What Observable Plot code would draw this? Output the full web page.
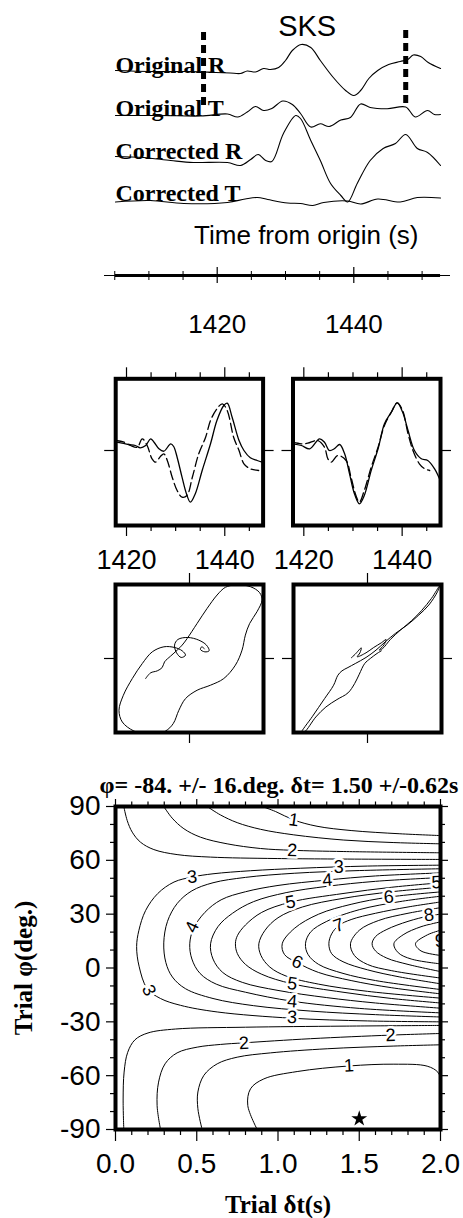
<!DOCTYPE html>
<html><head><meta charset="utf-8">
<script src="https://cdn.jsdelivr.net/npm/d3@7"></script>
<script src="https://cdn.jsdelivr.net/npm/@observablehq/plot@0.6"></script>
<style>
body{margin:0;background:#fff;}
#wrap{position:relative;width:463px;height:1218px;overflow:hidden;background:#fff;}
</style></head><body><div id="wrap"></div>
<script>
// ---------------- DATA ----------------
// Top traces: time (s) and amplitude (arbitrary units)
const timesOR = [1405.1,1410.2,1416.1,1419.8,1421.9,1423.4,1424.4,1425.6,1426.8,1427.8,1429.0,1430.0,1431.0,1432.3,1433.7,1435.1,1437.0,1438.8,1440.0,1441.0,1442.2,1443.5,1445.1,1446.8,1447.9,1448.7,1449.8,1450.9,1452.7];
const ampOR   = [1,0,0,-1,-1.5,-2,0.5,-0.5,3,2,4,11,21,27,24,11,-6,-19,-24,-19,-7,1,7,10,12,16.5,15,9,3];
const timesOT = [1405.1,1411.7,1417.6,1421.5,1423.0,1424.4,1425.6,1426.8,1428.0,1429.6,1431.0,1432.2,1433.7,1435.1,1436.4,1438.1,1439.5,1441.0,1442.4,1444.9,1447.6,1449.0,1450.8,1451.8,1452.7];
const ampOT   = [0,0,-0.5,1.5,-1.5,3.5,9,5,7,14.5,11,2,-11.5,-8.3,-11,-4.5,-2,11.5,8,6.7,8.5,-1.5,5,1,1];
const timesCR = [1405.1,1409.2,1413.2,1416.5,1421.5,1423.4,1424.9,1426.0,1427.1,1428.0,1429.7,1431.5,1432.2,1433.7,1435.1,1436.6,1438.1,1439.1,1440.5,1442.4,1444.3,1446.1,1447.6,1449.3,1450.8,1452.7];
const ampCR   = [4,3,0,-2,-2,-5,1,6,0,-1,27,45,42,20,0,-23,-35,-41.5,-23,0,12,17,26,12,8,-5];
const timesCT = [1405.1,1410.2,1415.1,1421.5,1424.1,1425.9,1427.4,1430.3,1432.2,1434.0,1435.6,1439.1,1441.0,1443.5,1446.8,1449.3,1452.7];
const ampCT   = [-0.5,1,-2,-1,2.5,4,2,-1.5,-2,-4,-1,0.5,-2.5,2.5,-0.5,4,3.5];
const traceLabels = ["Original R","Original T","Corrected R","Corrected T"];
const windowStart = 1418.0, windowEnd = 1447.6;
const timeTicksMajor = [1420,1440];
const timeTicksMinor = [1405,1410,1415,1425,1430,1435,1445,1450];

// Window panels: fast (solid) and slow (dashed) components
const timesFL = [1417.8,1419.1,1420.5,1421.8,1422.8,1423.9,1424.9,1425.6,1426.6,1427.6,1429.0,1429.6,1430.3,1431.3,1432.2,1433.0,1434.0,1435.4,1437.1,1438.4,1439.8,1440.5,1441.5,1442.9,1443.9,1445.2,1446.6,1447.6];
const ampFL   = [8.3,7.3,6,5,2.7,5,11.7,8.3,1.7,-0.7,6.7,4,-6.7,-26.7,-43.3,-51.7,-43.3,-20,6.7,30,45,47.3,33.3,10,0,-7.3,-10,-11.7];
const timesSL = [1417.8,1419.5,1420.8,1422.2,1423.2,1424.2,1425.2,1425.9,1426.9,1427.6,1428.3,1429.3,1430.3,1431.3,1432.3,1433.4,1434.7,1436.1,1437.1,1438.4,1439.5,1440.5,1441.8,1442.9,1443.9,1445.2,1446.9];
const ampSL   = [10,8.3,5,3.3,11.7,5,-8.3,-11.7,-6,-3.3,-10,-26.7,-40,-46.7,-45,-26.7,-3.3,13.3,30,41.7,46.7,40,13.3,0,-13.3,-18.3,-20];
const timesFR = [1417.8,1419.5,1421.2,1423.2,1424.2,1425.2,1426.2,1427.3,1428.3,1429.3,1430.3,1431.3,1432.3,1433.7,1435.1,1436.4,1437.8,1439.0,1440.1,1441.2,1442.5,1443.9,1445.2,1446.6,1447.6];
const ampFR   = [6.7,5,1.7,11.7,8.3,0,1.7,6,-3.3,-23.3,-43.3,-53.3,-45,-20,1.7,26.7,38.3,47.7,38.3,20,0,-8.3,-10,-18.3,-28.3];
const timesSR = [1417.8,1419.5,1420.8,1422.8,1424.2,1424.9,1425.6,1426.9,1428.6,1429.6,1430.6,1431.3,1432.3,1433.7,1435.1,1436.4,1437.8,1439.0,1440.1,1441.2,1442.2,1443.5,1444.6,1445.6];
const ampSR   = [8.3,6.7,7.3,10,3.3,-8.3,-11.7,-5,-10,-26.7,-45,-51.7,-40,-16.7,3.3,25,38.3,47.7,40,16.7,0,-13.3,-18.3,-20];
const windowTicks = [1420,1425,1430,1435,1440,1445];
const windowTickLabels = [1420,1440];

// Particle motion (normalized)
const pmLeftU  = [-0.593,-0.526,-0.436,-0.369,-0.337,-0.256,-0.166,-0.099,-0.031,0.103,0.238,0.373,0.485,0.62,0.822,0.948,0.98,0.912,0.813,0.755,0.71,0.62,0.463,0.283,0.103,-0.054,-0.144,-0.22,-0.324,-0.526,-0.751,-0.908,-0.953,-0.894,-0.773,-0.638,-0.503,-0.346,-0.202,-0.099,-0.054,-0.112,-0.175,-0.202,-0.157,-0.022,0.126,0.229,0.265,0.207,0.148,0.166,0.202];
const pmLeftV  = [-0.271,-0.194,-0.167,-0.122,-0.045,0.032,0.113,0.181,0.271,0.474,0.677,0.858,0.962,0.993,0.971,0.889,0.79,0.632,0.474,0.316,0.113,-0.09,-0.271,-0.361,-0.429,-0.542,-0.7,-0.88,-0.98,-1.038,-0.98,-0.858,-0.7,-0.497,-0.271,-0.068,0.09,0.158,0.149,0.104,0.045,0.014,0.077,0.181,0.257,0.284,0.248,0.181,0.104,0.09,0.122,0.158,0.131];
const pmRightU = [-0.219,-0.165,-0.084,-0.102,-0.138,-0.02,0.084,0.187,0.251,0.223,0.16,0.205,0.309,0.445,0.594,0.729,0.865,0.973,0.946,0.828,0.693,0.535,0.377,0.241,0.115,-0.02,-0.165,-0.264,-0.345,-0.4,-0.458,-0.58,-0.743,-0.896,-0.851,-0.698,-0.562,-0.413,-0.264,-0.174,-0.111,-0.038,0.038,0.129,0.187];
const pmRightV = [0.009,0.059,0.144,0.077,0.023,0.077,0.149,0.212,0.257,0.185,0.113,0.135,0.257,0.384,0.51,0.646,0.813,0.98,0.903,0.722,0.587,0.451,0.339,0.226,0.113,0.014,-0.068,-0.122,-0.167,-0.226,-0.361,-0.542,-0.781,-1.007,-0.993,-0.79,-0.655,-0.555,-0.465,-0.339,-0.212,-0.068,0,0.068,0.104];

// Energy-surface contours: [dt (s), phi (deg)]
const c1Top  = [[0.903,90],[0.985,87.2],[1.097,82.5],[1.24,79],[1.45,76.6],[1.75,74.8],[2.0,73.8]];
const c15Top = [[0.564,90],[0.646,85.3],[0.749,81],[0.892,77.3],[1.097,74.2],[1.405,71.3],[1.713,69.9],[2.0,69.2]];
const c2Top  = [[0.297,90],[0.349,83.5],[0.421,77.6],[0.523,72.9],[0.687,69.2],[0.892,66.6],[1.087,65.6],[1.405,64.9],[2.0,64.2]];
const c25Top = [[0.051,90],[0.072,82.2],[0.103,75.7],[0.154,70.1],[0.236,66],[0.379,63.2],[0.585,61.8],[0.995,61],[2.0,60.5]];
const c3  = [[2.0,57.3],[1.55,56.8],[1.14,55.6],[0.83,54.2],[0.6,52.5],[0.472,50.7],[0.36,47.9],[0.26,41.5],[0.185,32],[0.144,21],[0.13,12],[0.145,1],[0.195,-11.5],[0.277,-17],[0.4,-20.8],[0.626,-24.5],[1.087,-28],[1.55,-29.5],[2.0,-30]];
const c35 = [[2.0,55.3],[1.5,54.3],[1.1,52.8],[0.8,50.5],[0.6,47.5],[0.47,43],[0.38,36],[0.32,26],[0.297,14],[0.31,3],[0.35,-5],[0.43,-11.5],[0.6,-17],[0.85,-21],[1.2,-24],[1.6,-26],[2.0,-27.3]];
const c4  = [[2.0,53],[1.6,51.3],[1.3,49],[1.0,46],[0.8,42.5],[0.65,38],[0.55,31],[0.48,22],[0.457,13.5],[0.47,5],[0.52,-3],[0.62,-9],[0.8,-13.5],[1.087,-18.5],[1.5,-22.5],[2.0,-25]];
const c45 = [[2.0,50.4],[1.6,48.3],[1.3,45.5],[1.05,42],[0.85,37],[0.72,30.5],[0.63,23],[0.585,13.5],[0.6,5],[0.66,-2.5],[0.78,-8],[1.0,-12.5],[1.3,-16.5],[1.6,-19.5],[2.0,-22.4]];
const c5  = [[2.0,47.5],[1.7,45],[1.4,41.5],[1.077,36.7],[0.9,31],[0.8,24],[0.75,18],[0.738,13.5],[0.75,8],[0.8,2],[0.9,-3.5],[1.087,-8.8],[1.4,-13.5],[1.7,-17],[2.0,-19.5]];
const c55 = [[2.0,45],[1.7,42.5],[1.4,38.8],[1.15,34],[1.0,28],[0.92,21],[0.882,13.5],[0.895,7],[0.95,0.5],[1.05,-4.5],[1.25,-9],[1.55,-13],[2.0,-16.8]];
const c6  = [[2.0,42.4],[1.682,39.5],[1.45,35.5],[1.25,30],[1.1,22],[1.026,13.5],[1.04,7.5],[1.118,3],[1.25,-2.5],[1.45,-7],[1.7,-11],[2.0,-14.4]];
const c65 = [[2.0,40],[1.75,37],[1.5,32.5],[1.3,26],[1.2,20],[1.169,13.5],[1.185,7.5],[1.25,2],[1.4,-3],[1.6,-7],[2.0,-12]];
const c7  = [[2.0,36.8],[1.8,34],[1.6,30.5],[1.45,27],[1.374,23.7],[1.33,19],[1.313,13.5],[1.33,8],[1.4,3.5],[1.55,-1],[1.75,-5],[2.0,-8.8]];
const c75 = [[2.0,33.6],[1.8,30.5],[1.62,26.5],[1.5,21],[1.446,13.5],[1.47,7],[1.55,2],[1.7,-1.5],[2.0,-5.6]];
const c8  = [[2.0,30],[1.928,29],[1.8,26],[1.67,21.5],[1.6,17.5],[1.579,13.5],[1.6,9.5],[1.67,5.5],[1.8,2],[2.0,-2]];
const c85 = [[2.0,25.7],[1.88,23],[1.77,18.5],[1.713,13.5],[1.74,8.5],[1.82,5],[2.0,2.3]];
const c9  = [[2.0,21],[1.92,18.5],[1.846,13.5],[1.88,9.5],[2.0,7]];
const c25Bot = [[0.051,-90],[0.047,-73],[0.053,-58],[0.075,-47],[0.12,-40],[0.2,-36.2],[0.37,-34],[0.8,-33],[1.4,-32.4],[2.0,-32]];
const c2Bot  = [[0.277,-90],[0.256,-76.6],[0.265,-63.6],[0.305,-53.4],[0.379,-47.3],[0.503,-44.1],[0.646,-42.6],[0.79,-41.7],[1.2,-39.4],[1.692,-37.4],[2.0,-36.5]];
const c15Bot = [[0.533,-90],[0.507,-78.4],[0.507,-69.1],[0.544,-59.8],[0.626,-53.4],[0.749,-49.7],[0.954,-47.3],[1.303,-45],[1.713,-43.5],[2.0,-42.8]];
const c1Bot  = [[0.872,-90],[0.814,-76.6],[0.831,-67.3],[0.913,-61.8],[1.118,-57.7],[1.436,-54.6],[1.713,-53.6],[1.918,-54.7],[1.984,-58.1],[2.005,-63],[2.02,-68]];
const contourLabelText = ["1","2","3","3","4","5","5","6","8","7","4","6","9","3","5","4","3","2","2","1"];
const contourLabelDt   = [1.097,1.087,1.374,0.472,1.303,1.975,1.077,1.682,1.928,1.374,0.472,1.118,1.995,0.205,1.087,1.087,1.087,0.79,1.692,1.436];
const contourLabelPhi  = [82.5,65.5,56.3,50.7,49,47.6,36.7,39.5,29.5,23.7,22.8,3.2,15,-12.5,-8.8,-18.7,-27.4,-41.9,-37.5,-54.4];
const contourLabelRot  = [8,2,0,-6,-4,-3,-10,-5,-8,-20,-65,25,0,65,8,5,3,-3,-2,-3];
const bestDt = 1.50, bestPhi = -84;
const dtTicks = [0,0.5,1,1.5,2];
const phiTicks = [-90,-60,-30,0,30,60,90];
const titleText = "\u03c6= -84. +/- 16.deg. \u03b4t= 1.50 +/-0.62s";

// ---------------- LAYOUT ----------------
const wrap = document.getElementById("wrap");
function place(svg, left, top) {
  svg.style.position = "absolute";
  svg.style.left = left + "px";
  svg.style.top = top + "px";
  svg.style.overflow = "visible";
  svg.style.background = "transparent";
  wrap.appendChild(svg);
}
const SANS = "Liberation Sans, Arial, Helvetica, sans-serif";
const SERIF = "Liberation Serif, Times New Roman, serif";
const zip = (t, a) => t.map((v, i) => ({t: v, a: a[i]}));

// ---- Panel A: traces ----
const H1 = 345;
const pv = px => H1 - px;                       // pixel row -> y value
const tx = px => 1420 + (px - 216.7) / 6.83;    // pixel col -> time
const traceSets = [[timesOR, ampOR, 71, 72], [timesOT, ampOT, 115, 115], [timesCR, ampCR, 160, 158], [timesCT, ampCT, 201, 200]];
const plotA = Plot.plot({
  width: 463, height: H1, margin: 0,
  x: {domain: [tx(0), tx(463)], axis: null},
  y: {domain: [0, H1], axis: null},
  marks: [
    Plot.text(traceLabels, {x: timesOR[0], y: (d, i) => pv(traceSets[i][3]), text: d => d, textAnchor: "start", lineAnchor: "bottom", fontFamily: SERIF, fontWeight: "bold", fontSize: 24, fill: "black"}),
    ...traceSets.map(([t, a, base]) => Plot.line(t.map((v, i) => ({t: v, v: pv(base) + a[i]})), {x: "t", y: "v", curve: "catmull-rom", stroke: "black", strokeWidth: 1.1})),
    Plot.ruleX([windowStart], {y1: pv(32), y2: pv(110), stroke: "black", strokeWidth: 5, strokeDasharray: "8,5"}),
    Plot.ruleX([windowEnd], {y1: pv(30), y2: pv(107), stroke: "black", strokeWidth: 5, strokeDasharray: "8,5"}),
    Plot.text(["SKS"], {x: tx(306.7), y: pv(35), text: d => d, lineAnchor: "bottom", fontFamily: SANS, fontSize: 29}),
    Plot.text(["Time from origin (s)"], {x: tx(305.8), y: pv(243), text: d => d, lineAnchor: "bottom", fontFamily: SANS, fontSize: 26}),
    Plot.ruleY([pv(275)], {x1: tx(104), x2: tx(450), stroke: "black", strokeWidth: 1}),
    Plot.ruleY([pv(275)], {x1: timesOR[0], x2: timesOR[timesOR.length - 1], stroke: "black", strokeWidth: 3}),
    Plot.ruleX(timeTicksMajor, {y1: pv(267), y2: pv(283), stroke: "black", strokeWidth: 1.2}),
    Plot.ruleX(timeTicksMinor, {y1: pv(271), y2: pv(280), stroke: "black", strokeWidth: 1}),
    Plot.text(timeTicksMajor, {x: d => d, y: pv(332), text: d => String(d), lineAnchor: "bottom", fontFamily: SANS, fontSize: 26})
  ]
});
place(plotA, 0, 0);

// ---- Panel B: windowed waveforms ----
const winDomain = [1417.8, 1447.8];
const pxPerSec = 4.915;
function wavePanel(fT, fA, sT, sA, width, mL, mR) {
  const top = 345, h = 230, fTop = 378.3, fBot = 525;
  const yTop = 71.7, yBot = -75;
  const len = d => windowTickLabels.includes(d) ? 11 : 6;
  return Plot.plot({
    width, height: h, marginLeft: mL, marginRight: mR, marginTop: fTop - top, marginBottom: top + h - fBot,
    x: {domain: winDomain, axis: null},
    y: {domain: [yBot, yTop], axis: null},
    marks: [
      Plot.line(zip(fT, fA), {x: "t", y: "a", curve: "catmull-rom", stroke: "black", strokeWidth: 1.3, clip: true}),
      Plot.line(zip(sT, sA), {x: "t", y: "a", curve: "catmull-rom", stroke: "black", strokeWidth: 1.3, strokeDasharray: "9,4", clip: true}),
      Plot.frame({stroke: "black", strokeWidth: 4}),
      Plot.ruleX(windowTicks, {y1: yTop, y2: d => yTop + len(d), stroke: "black", strokeWidth: 1.2}),
      Plot.ruleX(windowTicks, {y1: yBot, y2: d => yBot - len(d), stroke: "black", strokeWidth: 1.2}),
      Plot.ruleY([0], {x1: winDomain[0] - 11 / pxPerSec, x2: winDomain[0], stroke: "black", strokeWidth: 1.2}),
      Plot.ruleY([0], {x1: winDomain[1], x2: winDomain[1] + 11 / pxPerSec, stroke: "black", strokeWidth: 1.2}),
      Plot.text(windowTickLabels, {x: d => d, y: yBot - (568 - fBot), text: d => String(d), lineAnchor: "bottom", fontFamily: SANS, fontSize: 27})
    ]
  });
}
place(wavePanel(timesFL, ampFL, timesSL, ampSL, 278, 115.2, 15.4), 0, 345);
place(wavePanel(timesFR, ampFR, timesSR, ampSR, 185, 14.5, 23), 278, 345);

// ---- Panel C: particle motion ----
function pmPanel(U, V, width, mL, mR) {
  const top = 575, h = 185, fTop = 584, fBot = 732;
  const k = 11 / 74;
  return Plot.plot({
    width, height: h, marginLeft: mL, marginRight: mR, marginTop: fTop - top, marginBottom: top + h - fBot,
    x: {domain: [-1, 1], axis: null},
    y: {domain: [-1, 1], axis: null},
    marks: [
      Plot.line(U.map((u, i) => [u, V[i]]), {curve: "catmull-rom", stroke: "black", strokeWidth: 1, clip: true}),
      Plot.frame({stroke: "black", strokeWidth: 4}),
      Plot.ruleX([0], {y1: 1, y2: 1 + k, stroke: "black", strokeWidth: 1.2}),
      Plot.ruleX([0], {y1: -1, y2: -1 - k, stroke: "black", strokeWidth: 1.2}),
      Plot.ruleY([0], {x1: -1 - k, x2: -1, stroke: "black", strokeWidth: 1.2}),
      Plot.ruleY([0], {x1: 1, x2: 1 + k, stroke: "black", strokeWidth: 1.2})
    ]
  });
}
place(pmPanel(pmLeftU, pmLeftV, 278, 115, 15), 0, 575);
place(pmPanel(pmRightU, pmRightV, 185, 15, 22), 278, 575);

// ---- Panel D: energy contours ----
const contours = [c1Top, c15Top, c2Top, c25Top, c3, c35, c4, c45, c5, c55, c6, c65, c7, c75, c8, c85, c9, c25Bot, c2Bot, c15Bot, c1Bot];
const pxDt = 162.5, pxDeg = 323 / 180;
const dtMinor = d3.range(0, 21).map(i => i / 10);
const phiMinor = d3.range(-9, 10).map(i => i * 10);
const isMajDt = d => Math.abs(d * 2 - Math.round(d * 2)) < 1e-6;
const isMajPhi = d => d % 30 === 0;
const labels = contourLabelText.map((t, i) => ({t, x: contourLabelDt[i], y: contourLabelPhi[i], r: contourLabelRot[i]}));
const plotD = Plot.plot({
  width: 463, height: 458, marginLeft: 115, marginRight: 23, marginTop: 46, marginBottom: 89,
  x: {domain: [0, 2], axis: null},
  y: {domain: [-90, 90], axis: null},
  marks: [
    ...contours.map(c => Plot.line(c, {curve: "catmull-rom", stroke: "black", strokeWidth: 1, clip: true})),
    Plot.text(labels, {x: "x", y: "y", text: "t", rotate: "r", fontFamily: SANS, fontSize: 18, fill: "black", stroke: "white", strokeWidth: 5, clip: true}),
    Plot.dot([[bestDt, bestPhi]], {x: d => d[0], y: d => d[1], symbol: "star", fill: "black", stroke: "none", r: 5}),
    Plot.frame({stroke: "black", strokeWidth: 4}),
    Plot.ruleY(phiMinor, {x1: d => -(isMajPhi(d) ? 9 : 5) / pxDt, x2: 0, stroke: "black", strokeWidth: 1.2}),
    Plot.ruleY(phiMinor, {x1: 2, x2: d => 2 + (isMajPhi(d) ? 8 : 5) / pxDt, stroke: "black", strokeWidth: 1.2}),
    Plot.ruleX(dtMinor, {y1: -90, y2: d => -90 - (isMajDt(d) ? 12 : 6) / pxDeg, stroke: "black", strokeWidth: 1.2}),
    Plot.ruleX(dtMinor, {y1: 90, y2: d => 90 + (isMajDt(d) ? 7 : 4.5) / pxDeg, stroke: "black", strokeWidth: 1.2}),
    Plot.text(phiTicks, {x: 0, y: d => d, dx: -15, text: d => String(d), textAnchor: "end", fontFamily: SANS, fontSize: 28}),
    Plot.text(dtTicks, {x: d => d, y: -90, dy: 43, text: d => d.toFixed(1), lineAnchor: "bottom", fontFamily: SANS, fontSize: 28}),
    Plot.text([titleText], {frameAnchor: "top", dx: 1, dy: -14, text: d => d, textAnchor: "middle", lineAnchor: "bottom", fontFamily: SERIF, fontWeight: "bold", fontSize: 24}),
    Plot.text(["Trial \u03b4t(s)"], {frameAnchor: "bottom", dy: 83, text: d => d, textAnchor: "middle", lineAnchor: "bottom", fontFamily: SERIF, fontWeight: "bold", fontSize: 25}),
    Plot.text(["Trial \u03c6(deg.)"], {frameAnchor: "left", dx: -92, rotate: -90, text: d => d, textAnchor: "middle", fontFamily: SERIF, fontWeight: "bold", fontSize: 25})
  ]
});
place(plotD, 0, 760);
</script></body></html>
